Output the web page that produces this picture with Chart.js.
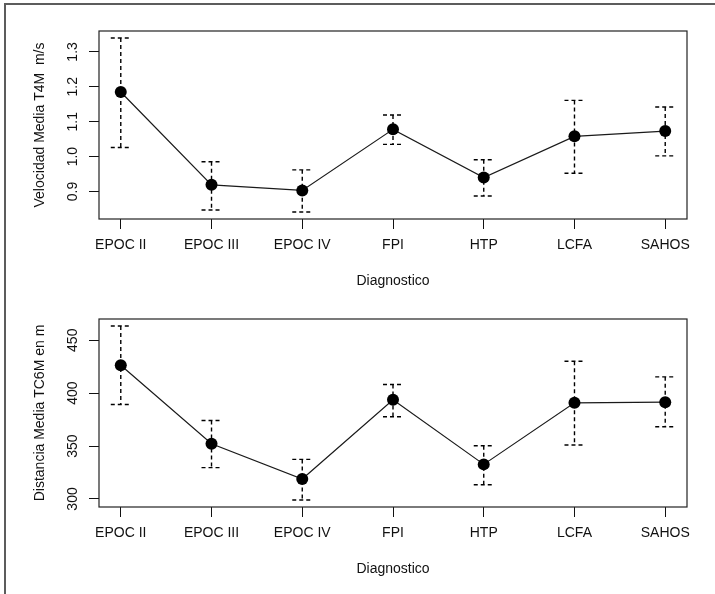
<!DOCTYPE html>
<html lang="es">
<head>
  <meta charset="UTF-8">
  <title>Diagnostico: velocidad y distancia medias</title>
  <script src="https://cdn.jsdelivr.net/npm/chart.js"></script>
  <style>
    body { margin: 0; background: #fff; }
    #hoja { position: relative; width: 715px; height: 594px; overflow: hidden; }
    #marco { position: absolute; left: 4px; top: 3px; width: 720px; height: 600px;
             border-top: 2px solid #5c5c5c; border-left: 2px solid #5c5c5c; }
    canvas { position: absolute; left: 0; }
    #velocidad { top: 0; }
    #distancia { top: 288px; }
  </style>
</head>
<body>
<div id="hoja">
  <div id="marco"></div>
  <canvas id="velocidad" width="715" height="297"></canvas>
  <canvas id="distancia" width="715" height="297"></canvas>
</div>

<script>
  // categorias del eje x
  const diagnosticos = ['EPOC II', 'EPOC III', 'EPOC IV', 'FPI', 'HTP', 'LCFA', 'SAHOS'];

  // Velocidad media T4M (m/s) con intervalo
  const velMedia = [1.185, 0.919, 0.903, 1.078, 0.940, 1.058, 1.073];
  const velInf   = [1.026, 0.847, 0.841, 1.035, 0.887, 0.952, 1.002];
  const velSup   = [1.340, 0.985, 0.962, 1.119, 0.991, 1.161, 1.142];
  const velTicks = [0.9, 1.0, 1.1, 1.2, 1.3];

  // Distancia media TC6M (m) con intervalo
  const distMedia = [426.4, 352.2, 318.9, 393.7, 332.7, 390.9, 391.5];
  const distInf   = [389.3, 329.6, 299.0, 377.7, 313.5, 351.0, 368.2];
  const distSup   = [463.5, 374.2, 337.4, 408.2, 350.3, 430.2, 415.4];
  const distTicks = [300, 350, 400, 450];

  const fuente = "'Liberation Sans', Arial, sans-serif";

  // barras de error punteadas (como plotmeans de R)
  const barrasError = {
    id: 'barrasError',
    beforeDatasetsDraw(chart, args, opts) {
      const { ctx } = chart;
      const xs = chart.scales.x, ys = chart.scales.y;
      ctx.save();
      ctx.strokeStyle = '#000';
      ctx.lineWidth = 1.4;
      ctx.setLineDash([4, 3]);
      opts.inf.forEach((lo, i) => {
        const x = xs.getPixelForValue(i + 1);
        const y1 = ys.getPixelForValue(lo);
        const y2 = ys.getPixelForValue(opts.sup[i]);
        ctx.beginPath();
        ctx.moveTo(x, y2); ctx.lineTo(x, y1);
        ctx.moveTo(x - 10, y1); ctx.lineTo(x + 11, y1);
        ctx.moveTo(x - 10, y2); ctx.lineTo(x + 11, y2);
        ctx.stroke();
      });
      ctx.restore();
    },
    afterDraw(chart) {
      const { ctx, chartArea: a } = chart;
      const ys = chart.scales.y;
      ctx.save();
      // caja del grafico
      ctx.strokeStyle = '#222';
      ctx.lineWidth = 1.2;
      ctx.strokeRect(a.left, a.top, a.right - a.left, a.bottom - a.top);
      // etiquetas del eje y giradas
      ctx.fillStyle = '#111';
      ctx.font = '14px ' + fuente;
      ctx.textAlign = 'center';
      ctx.textBaseline = 'middle';
      ys.ticks.forEach(t => {
        const y = ys.getPixelForValue(t.value);
        ctx.save();
        ctx.translate(73, y);
        ctx.rotate(-Math.PI / 2);
        ctx.fillText(t.label, 0, 0);
        ctx.restore();
      });
      ctx.restore();
    }
  };

  function rangoR(inf, sup) {
    const lo = Math.min(...inf), hi = Math.max(...sup);
    const d = (hi - lo) * 0.04;
    return [lo - d, hi + d];
  }

  function crearGrafica(id, medias, inf, sup, ticksY, tituloY, decimales) {
    const n = diagnosticos.length;
    const [yMin, yMax] = rangoR(inf, sup);
    return new Chart(document.getElementById(id), {
      type: 'line',
      data: {
        datasets: [{
          data: medias.map((v, i) => ({ x: i + 1, y: v })),
          borderColor: '#1a1a1a',
          borderWidth: 1.2,
          pointRadius: 6,
          pointBackgroundColor: '#000',
          pointBorderColor: '#000',
          pointBorderWidth: 0,
          tension: 0,
          fill: false
        }]
      },
      options: {
        responsive: false,
        animation: false,
        layout: { padding: { left: 0, top: 31, right: 28, bottom: 0 } },
        plugins: {
          legend: { display: false },
          tooltip: { enabled: false },
          barrasError: { inf, sup }
        },
        scales: {
          x: {
            type: 'linear',
            min: 1 - 0.04 * (n - 1),
            max: n + 0.04 * (n - 1),
            afterBuildTicks: s => { s.ticks = diagnosticos.map((d, i) => ({ value: i + 1 })); },
            afterFit: s => { s.height = 78; },
            grid: { drawOnChartArea: false, drawTicks: true, tickLength: 10, color: '#111', lineWidth: 1 },
            border: { display: false },
            ticks: {
              padding: 8,
              color: '#111',
              font: { family: fuente, size: 14 },
              maxRotation: 0,
              autoSkip: false,
              callback: v => diagnosticos[v - 1]
            },
            title: {
              display: true,
              text: 'Diagnostico',
              color: '#111',
              font: { family: fuente, size: 14 },
              padding: { top: 0, bottom: 7 }
            }
          },
          y: {
            min: yMin,
            max: yMax,
            afterBuildTicks: s => { s.ticks = ticksY.map(v => ({ value: v })); },
            afterFit: s => { s.width = 99; },
            grid: { drawOnChartArea: false, drawTicks: true, tickLength: 10, color: '#111', lineWidth: 1 },
            border: { display: false },
            ticks: {
              display: false,
              callback: v => v.toFixed(decimales)
            },
            title: {
              display: true,
              text: tituloY,
              color: '#111',
              font: { family: fuente, size: 14 },
              padding: { top: 31.6, bottom: 0 }
            }
          }
        }
      },
      plugins: [barrasError]
    });
  }

  crearGrafica('velocidad', velMedia, velInf, velSup, velTicks, 'Velocidad Media T4M  m/s', 1);
  crearGrafica('distancia', distMedia, distInf, distSup, distTicks, 'Distancia Media TC6M en m', 0);
</script>
</body>
</html>
